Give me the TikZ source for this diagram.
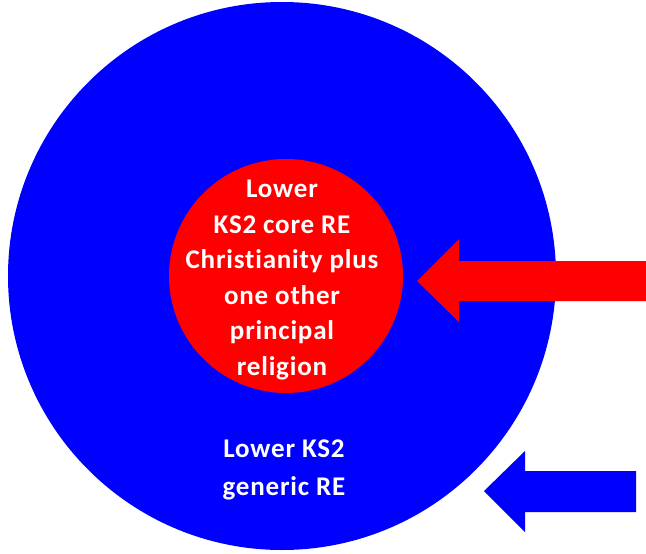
\documentclass[tikz,border=0pt]{standalone}
\usepackage{fontspec}
\setmainfont{Carlito}[Ligatures=NoCommon, LetterSpace=3]

\begin{document}
\begin{tikzpicture}[x=1pt, y=-1pt,
	disc/.style={circle, inner sep=0pt, outer sep=0pt},
	caption/.style={text=white, align=center, font=\fontsize{27}{#1}\selectfont\bfseries}]
	\useasboundingbox (0, 0) rectangle (646, 554);
	\node [disc, fill=blue, minimum size=548pt] (outer) at (282, 276) {};
	\node [disc, fill=red, minimum size=234pt] (core) at (286, 276) {};
	\node [caption=35.6] (coretext) at (282, 280)
		{Lower\\KS2 core RE\\Christianity plus\\one other\\principal\\religion};
	\node [caption=38] (outertext) at (284, 470) {Lower KS2\\generic RE};
	% arrows pointing in
	\fill [red] (417, 281) -- (459, 239) -- (459, 261) -- (646, 261)
		-- (646, 301) -- (459, 301) -- (459, 322) -- cycle;
	\fill [blue] (484, 491) -- (525, 451) -- (525, 471) -- (636, 471)
		-- (636, 512) -- (525, 512) -- (525, 532) -- cycle;
\end{tikzpicture}
\end{document}
